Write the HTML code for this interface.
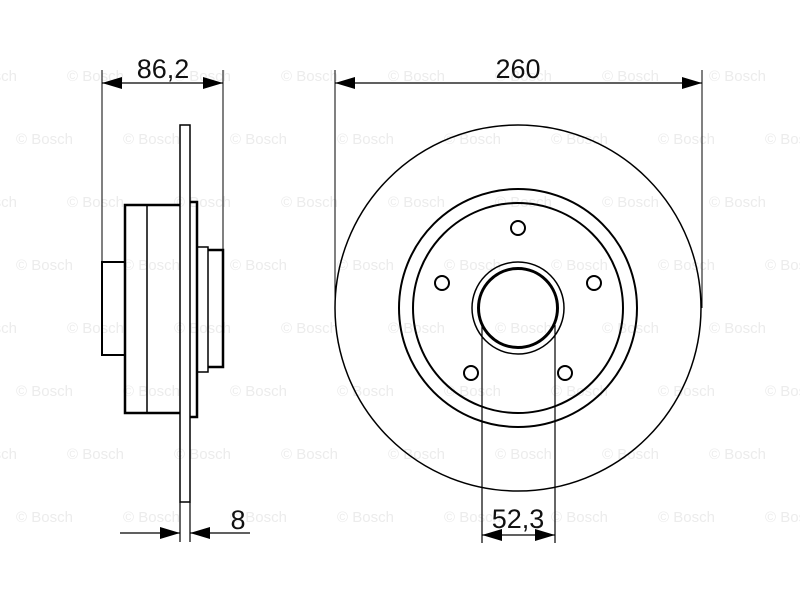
<!DOCTYPE html>
<html><head><style>
html,body{margin:0;padding:0;background:#fff;}
svg{display:block;}
</style></head><body>
<svg width="800" height="600" viewBox="0 0 800 600" xmlns="http://www.w3.org/2000/svg">
<defs>
<marker id="a" viewBox="0 0 20 14" refX="20" refY="7" markerWidth="20" markerHeight="14" markerUnits="userSpaceOnUse" orient="auto-start-reverse"><path d="M0,1 L20,7 L0,13 Z" fill="#000"/></marker>
</defs>
<g font-family="Liberation Sans, sans-serif" font-size="15" fill="#ececec">
<text x="-40" y="81">© Bosch</text><text x="67" y="81">© Bosch</text><text x="174" y="81">© Bosch</text><text x="281" y="81">© Bosch</text><text x="388" y="81">© Bosch</text><text x="495" y="81">© Bosch</text><text x="602" y="81">© Bosch</text><text x="709" y="81">© Bosch</text>
<text x="16" y="144">© Bosch</text><text x="123" y="144">© Bosch</text><text x="230" y="144">© Bosch</text><text x="337" y="144">© Bosch</text><text x="444" y="144">© Bosch</text><text x="551" y="144">© Bosch</text><text x="658" y="144">© Bosch</text><text x="765" y="144">© Bosch</text>
<text x="-40" y="207">© Bosch</text><text x="67" y="207">© Bosch</text><text x="174" y="207">© Bosch</text><text x="281" y="207">© Bosch</text><text x="388" y="207">© Bosch</text><text x="495" y="207">© Bosch</text><text x="602" y="207">© Bosch</text><text x="709" y="207">© Bosch</text>
<text x="16" y="270">© Bosch</text><text x="123" y="270">© Bosch</text><text x="230" y="270">© Bosch</text><text x="337" y="270">© Bosch</text><text x="444" y="270">© Bosch</text><text x="551" y="270">© Bosch</text><text x="658" y="270">© Bosch</text><text x="765" y="270">© Bosch</text>
<text x="-40" y="333">© Bosch</text><text x="67" y="333">© Bosch</text><text x="174" y="333">© Bosch</text><text x="281" y="333">© Bosch</text><text x="388" y="333">© Bosch</text><text x="495" y="333">© Bosch</text><text x="602" y="333">© Bosch</text><text x="709" y="333">© Bosch</text>
<text x="16" y="396">© Bosch</text><text x="123" y="396">© Bosch</text><text x="230" y="396">© Bosch</text><text x="337" y="396">© Bosch</text><text x="444" y="396">© Bosch</text><text x="551" y="396">© Bosch</text><text x="658" y="396">© Bosch</text><text x="765" y="396">© Bosch</text>
<text x="-40" y="459">© Bosch</text><text x="67" y="459">© Bosch</text><text x="174" y="459">© Bosch</text><text x="281" y="459">© Bosch</text><text x="388" y="459">© Bosch</text><text x="495" y="459">© Bosch</text><text x="602" y="459">© Bosch</text><text x="709" y="459">© Bosch</text>
<text x="16" y="522">© Bosch</text><text x="123" y="522">© Bosch</text><text x="230" y="522">© Bosch</text><text x="337" y="522">© Bosch</text><text x="444" y="522">© Bosch</text><text x="551" y="522">© Bosch</text><text x="658" y="522">© Bosch</text><text x="765" y="522">© Bosch</text>
</g>
<g fill="none" stroke="#000">
<rect x="180" y="125" width="10" height="377" stroke-width="1.5"/>
<line x1="180" y1="502" x2="180" y2="542" stroke-width="1.2"/>
<line x1="190" y1="502" x2="190" y2="542" stroke-width="1.2"/>
<path d="M180,205 L125,205 L125,413 L180,413" stroke-width="2.5"/>
<line x1="147" y1="205" x2="147" y2="413" stroke-width="1.5"/>
<path d="M125,262 L102,262 L102,355 L125,355" stroke-width="2"/>
<path d="M190,202 L197,202 L197,417 L190,417" stroke-width="2.5"/>
<path d="M197,247 L208,247 L208,372 L197,372" stroke-width="1.5"/>
<path d="M208,250 L223,250 L223,367 L208,367" stroke-width="2.5"/>
<line x1="102" y1="70" x2="102" y2="262" stroke-width="1"/>
<line x1="223" y1="70" x2="223" y2="250" stroke-width="1"/>
<line x1="102" y1="83" x2="223" y2="83" stroke-width="1.2" marker-start="url(#a)" marker-end="url(#a)"/>
<line x1="120" y1="533" x2="180" y2="533" stroke-width="1.2" marker-end="url(#a)"/>
<line x1="250" y1="533" x2="190" y2="533" stroke-width="1.2" marker-end="url(#a)"/>
<circle cx="518" cy="308" r="183" stroke-width="1.5"/>
<circle cx="518" cy="308" r="119" stroke-width="2"/>
<circle cx="518" cy="308" r="105" stroke-width="2"/>
<circle cx="518" cy="308" r="46" stroke-width="1.5"/>
<circle cx="518" cy="308" r="39.5" stroke-width="3"/>
<g stroke-width="2">
<circle cx="518" cy="228" r="7"/>
<circle cx="594" cy="283" r="7"/>
<circle cx="565" cy="373" r="7"/>
<circle cx="471" cy="373" r="7"/>
<circle cx="442" cy="283" r="7"/>
</g>
<line x1="335" y1="70" x2="335" y2="308" stroke-width="1"/>
<line x1="702" y1="70" x2="702" y2="308" stroke-width="1"/>
<line x1="335" y1="83" x2="702" y2="83" stroke-width="1.2" marker-start="url(#a)" marker-end="url(#a)"/>
<line x1="482" y1="325" x2="482" y2="543" stroke-width="1.2"/>
<line x1="555" y1="325" x2="555" y2="543" stroke-width="1.2"/>
<line x1="482" y1="535" x2="555" y2="535" stroke-width="1.2" marker-start="url(#a)" marker-end="url(#a)"/>
</g>
<g font-family="Liberation Sans, sans-serif" font-size="27" fill="#111" text-anchor="middle">
<text x="163" y="78">86,2</text>
<text x="518" y="78">260</text>
<text x="238" y="529">8</text>
<text x="518" y="528">52,3</text>
</g>
</svg>
</body></html>
